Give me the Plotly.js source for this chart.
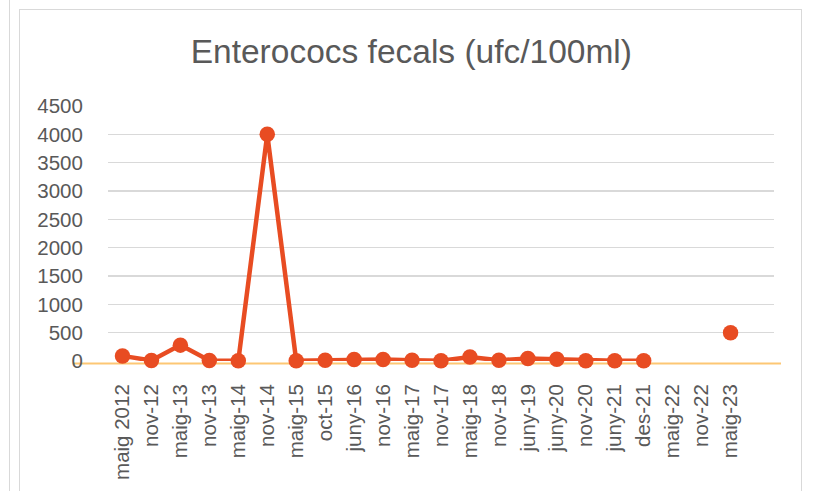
<!DOCTYPE html>
<html>
<head>
<meta charset="utf-8">
<script src="https://cdn.plot.ly/plotly-3.0.1.min.js"></script>
<style>
  html, body { margin: 0; padding: 0; background: #ffffff; }
  #wrap { position: relative; width: 831px; height: 491px; overflow: hidden; background: #ffffff; }
  #prevBorder { position: absolute; left: 9px; top: -2px; width: 1px; height: 500px; background: #d9d9d9; }
  #chartBorder { position: absolute; left: 19px; top: 9px; width: 783px; height: 500px; border: 1px solid #d9d9d9; box-sizing: border-box; }
  #chart { position: absolute; left: 0; top: 0; width: 831px; height: 491px; }
</style>
</head>
<body>
<div id="wrap">
  <div id="prevBorder"></div>
  <div id="chartBorder"></div>
  <div id="chart"></div>
</div>
<script>
const categories = ["maig 2012","nov-12","maig-13","nov-13","maig-14","nov-14","maig-15","oct-15",
  "juny-16","nov-16","maig-17","nov-17","maig-18","nov-18","juny-19","juny-20","nov-20",
  "juny-21","des-21","maig-22","nov-22","maig-23"];
const enterococs = [90, 10, 280, 10, 3, 4000, 3, 15, 25, 25, 12, 3, 70, 12, 45, 30, 3, 6, 3, null, null, 500];
const yTicks = [0, 500, 1000, 1500, 2000, 2500, 3000, 3500, 4000, 4500];
const titleText = "Enterococs fecals (ufc/100ml)";

const FONT = "Liberation Sans, Arial, sans-serif";
const TXT = "#595959";

const trace = {
  type: "scatter",
  mode: "lines+markers",
  x: categories,
  y: enterococs,
  connectgaps: false,
  cliponaxis: false,
  line: { color: "#e84c22", width: 4.5 },
  marker: { color: "#e84c22", size: 15.5 },
  hoverinfo: "x+y"
};

const layout = {
  width: 831,
  height: 491,
  paper_bgcolor: "rgba(0,0,0,0)",
  plot_bgcolor: "rgba(0,0,0,0)",
  margin: { l: 108, r: 57, t: 106, b: 130, pad: 0 },
  showlegend: false,
  title: {
    text: titleText,
    font: { family: FONT, size: 33.5, color: TXT },
    x: 0.495, xanchor: "center", xref: "container",
    y: 0.896, yanchor: "middle", yref: "container"
  },
  xaxis: {
    type: "category",
    range: [-0.5, 22.5],
    showgrid: false,
    zeroline: false,
    showline: false,
    ticks: "outside",
    ticklen: 14,
    tickcolor: "rgba(0,0,0,0)",
    tickangle: -90,
    tickfont: { family: FONT, size: 20.5, color: TXT },
    fixedrange: true
  },
  yaxis: {
    range: [0, 4500],
    tickvals: yTicks,
    ticktext: yTicks.map(String),
    showgrid: true,
    gridcolor: "#d9d9d9",
    gridwidth: 1.3,
    zeroline: false,
    showline: false,
    ticks: "outside",
    ticklen: 20,
    tickcolor: "rgba(0,0,0,0)",
    tickfont: { family: FONT, size: 20.5, color: TXT },
    fixedrange: true
  },
  shapes: [{
    type: "line",
    xref: "paper", yref: "paper",
    x0: -0.0526, x1: 1.0105, y0: -0.01, y1: -0.01,
    line: { color: "#fdc774", width: 2 },
    layer: "below"
  }]
};

Plotly.newPlot("chart", [trace], layout, { displayModeBar: false, staticPlot: true });
</script>
</body>
</html>
